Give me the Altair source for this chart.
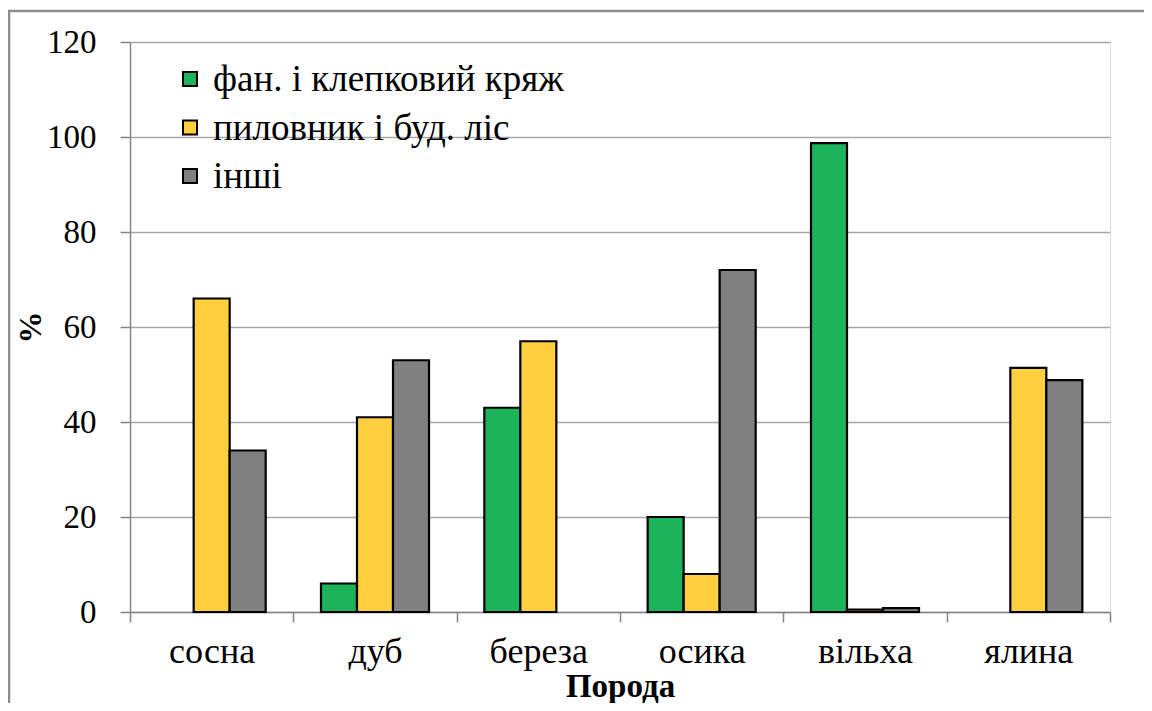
import altair as alt
import pandas as pd

species = ["сосна", "дуб", "береза", "осика", "вільха", "ялина"]
series = ["фан. і клепковий кряж", "пиловник і буд. ліс", "інші"]
veneer = [0, 6, 43, 20, 98.7, 0]
sawlog = [66, 41, 57, 8, 0.5, 51.4]
other = [34, 53, 0, 72, 0.8, 48.8]
colors = ["#1DB35A", "#FFCF40", "#808080"]

rows = []
for i, sp in enumerate(species):
    for s, vals in zip(series, [veneer, sawlog, other]):
        rows.append({"species": sp, "series": s, "value": vals[i]})
df = pd.DataFrame(rows)
leg_df = pd.DataFrame({"series": series})

FONT = "Liberation Serif"
W, H = 980, 570

fill_enc = alt.Fill("series:N", sort=series,
                    scale=alt.Scale(domain=series, range=colors), legend=None)

bars = alt.Chart(df).transform_filter(alt.datum.value > 0).mark_bar(
    stroke="#000000", strokeWidth=2.2
).encode(
    x=alt.X("species:N", sort=species,
            scale=alt.Scale(paddingInner=0, paddingOuter=0),
            axis=alt.Axis(title="Порода", labelAngle=0, tickBand="extent",
                          labelFont=FONT, labelFontSize=36, labelColor="#000",
                          labelPadding=12, tickSize=10, tickColor="#868686",
                          domainColor="#868686", domainWidth=1.5, tickWidth=1.5,
                          titleFont=FONT, titleFontSize=33, titleFontWeight="bold",
                          titleColor="#000", titlePadding=1)),
    xOffset=alt.XOffset("series:N", sort=series,
                        scale=alt.Scale(paddingInner=0, paddingOuter=0.768)),
    y=alt.Y("value:Q", scale=alt.Scale(domain=[0, 120]),
            axis=alt.Axis(title="%", values=[0, 20, 40, 60, 80, 100, 120],
                          labelFont=FONT, labelFontSize=33, labelColor="#000",
                          labelPadding=24, tickSize=10, tickColor="#868686",
                          domainColor="#868686", domainWidth=1.5, tickWidth=1.5,
                          gridColor="#A6A6A6", gridWidth=1.5,
                          titleFont=FONT, titleFontSize=32, titleFontWeight="bold",
                          titleColor="#000", titleX=-83, titleY=H / 2)),
    fill=fill_enc,
)

leg_y = alt.Y("series:N", sort=series,
              scale=alt.Scale(domain=series, range=[37, 134], padding=0), axis=None)
leg_sym = alt.Chart(leg_df).mark_square(size=196, stroke="#000", strokeWidth=2,
                                        opacity=1).encode(
    x=alt.value(60), y=leg_y, fill=fill_enc
)
leg_txt = alt.Chart(leg_df).mark_text(align="left", baseline="middle", font=FONT,
                                      fontSize=37, color="#000", dy=1).encode(
    x=alt.value(83), y=leg_y, text="series:N"
)

edge = pd.DataFrame({"a": [0]})
left_edge = alt.Chart(edge).mark_rule(color="#8C8C8C", strokeWidth=2.5, clip=False).encode(
    x=alt.value(-121), y=alt.value(-32), y2=alt.value(H + 100)
)
top_edge = alt.Chart(edge).mark_rule(color="#8C8C8C", strokeWidth=2.5, clip=False).encode(
    x=alt.value(-122), x2=alt.value(W + 40), y=alt.value(-31)
)

chart = alt.layer(left_edge, top_edge, bars, leg_sym, leg_txt).resolve_scale(
    y="independent"
).properties(
    width=W, height=H,
    autosize=alt.AutoSizeParams(type="none"),
    padding={"left": 122, "top": 34, "right": 34, "bottom": 91},
).configure_view(stroke=None).configure(background="white", font=FONT)

chart.save("out.html", embed_options={"renderer": "svg", "actions": False})
